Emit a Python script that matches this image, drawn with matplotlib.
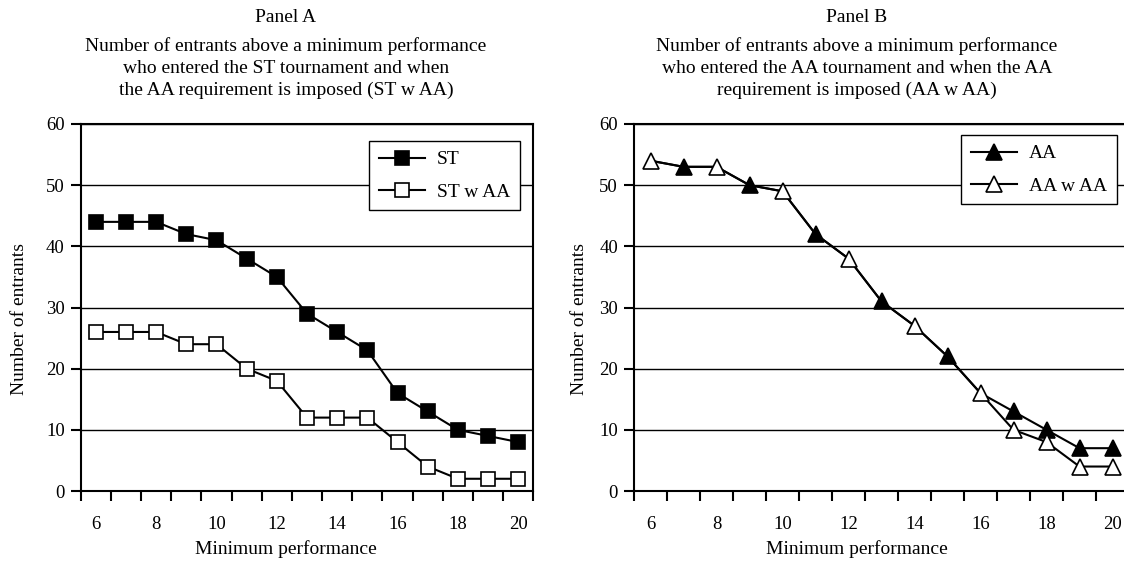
import numpy as np
import matplotlib
matplotlib.use("Agg")
import matplotlib.pyplot as plt

plt.rcParams['font.family'] = ['Liberation Serif', 'DejaVu Serif']

min_perf = [6, 7, 8, 9, 10, 11, 12, 13, 14, 15, 16, 17, 18, 19, 20]

st = [44, 44, 44, 42, 41, 38, 35, 29, 26, 23, 16, 13, 10, 9, 8]
st_w_aa = [26, 26, 26, 24, 24, 20, 18, 12, 12, 12, 8, 4, 2, 2, 2]

aa = [54, 53, 53, 50, 49, 42, 38, 31, 27, 22, 16, 13, 10, 7, 7]
aa_w_aa = [54, 53, 53, 50, 49, 42, 38, 31, 27, 22, 16, 10, 8, 4, 4]

panel_names = ["Panel A", "Panel B"]
subtitles = ["Number of entrants above a minimum performance\n"
             "who entered the ST tournament and when\n"
             "the AA requirement is imposed (ST w AA)",
             "Number of entrants above a minimum performance\n"
             "who entered the AA tournament and when the AA\n"
             "requirement is imposed (AA w AA)"]

W, H = 1124, 563
fig = plt.figure(figsize=(W / 100, H / 100), dpi=100)
axA = fig.add_axes([80.7 / W, 1 - 491 / H, (533.3 - 80.7) / W, (491 - 124) / H])
axB = fig.add_axes([634 / W, 1 - 491 / H, (1129 - 634) / W, (491 - 124) / H])

x = np.arange(len(min_perf))

axA.plot(x, st, color='black', lw=1.5, marker='s', ms=10.5, mfc='black',
         mec='black', mew=1.2, label='ST', zorder=3)
axA.plot(x, st_w_aa, color='black', lw=1.5, marker='s', ms=10.5, mfc='white',
         mec='black', mew=1.2, label='ST w AA', zorder=3)

# filled and open triangles sit on the same spots where the series agree
axB.plot(x, aa, color='black', lw=1.5, marker='^', ms=11, mfc='black',
         mec='black', mew=1.2, label='AA', zorder=3,
         markevery=[1, 3, 5, 7, 9, 11, 12, 13, 14])
axB.plot(x, aa_w_aa, color='black', lw=1.5, marker='^', ms=11, mfc='white',
         mec='black', mew=1.2, label='AA w AA', zorder=4,
         markevery=[0, 2, 4, 6, 8, 10, 11, 12, 13, 14])

centers = [286, 857]
for ax, name, sub, cx in zip([axA, axB], panel_names, subtitles, centers):
    ax.set_xlim(-0.5, len(min_perf) - 0.5)
    ax.set_ylim(0, 60)
    ax.set_yticks(np.arange(0, 61, 10))
    ax.yaxis.grid(True, color='black', lw=1.0)
    ax.set_axisbelow(True)
    ax.set_xticks(x[::2])
    ax.set_xticklabels([str(v) for v in min_perf[::2]], fontsize=13.5)
    ax.set_xticks(np.arange(-0.5, len(min_perf), 1), minor=True)
    ax.tick_params(axis='x', which='major', length=0, pad=18)
    ax.tick_params(axis='x', which='minor', length=7, width=1.5, direction='out')
    ax.tick_params(axis='y', length=7.5, width=1.5, labelsize=13.5, pad=4)
    for s in ax.spines.values():
        s.set_linewidth(1.5)
    pos = ax.get_position()
    ax.set_xlabel('Minimum performance', fontsize=14)
    ax.xaxis.set_label_coords((cx / W - pos.x0) / pos.width, -0.135)
    ax.set_ylabel('Number of entrants', fontsize=14)
    fig.text(cx / W, 1 - 18 / H, name, ha='center', va='center', fontsize=14)
    fig.text(cx / W, 1 - 68 / H, sub, ha='center', va='center', fontsize=14,
             linespacing=1.35)
    leg = ax.legend(loc='upper right', fontsize=14, frameon=True, fancybox=False,
                    edgecolor='black', framealpha=1, borderpad=0.5,
                    borderaxespad=0, labelspacing=0.75,
                    handlelength=2.4, handletextpad=0.6)
    leg.get_frame().set_linewidth(1.0)

axA.yaxis.set_label_coords((28 - 80.7) / 452.6, 0.47)
axB.yaxis.set_label_coords((588 - 634) / 495, 0.47)
axA.get_legend().set_bbox_to_anchor(((520 - 80.7) / 452.6, (491 - 141) / 367))
axB.spines['right'].set_visible(False)
axB.get_legend().set_bbox_to_anchor(((1117 - 634) / 495, (491 - 135) / 367))

fig.savefig('out.png', dpi=100)
